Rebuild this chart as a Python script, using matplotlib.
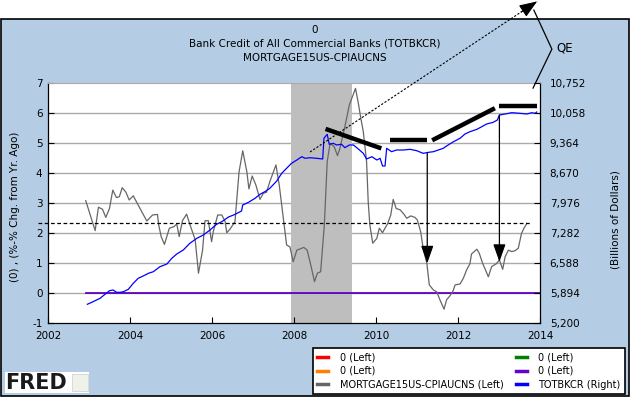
import matplotlib
matplotlib.use("Agg")
import matplotlib.pyplot as plt
from matplotlib.lines import Line2D
from matplotlib.patches import Rectangle

# ---------------- data ----------------
title_lines = ["0", "Bank Credit of All Commercial Banks (TOTBKCR)", "MORTGAGE15US-CPIAUCNS"]
left_label = "(0) , (%-% Chg. from Yr. Ago)"
right_label = "(Billions of Dollars)"

x_ticks = [2002, 2004, 2006, 2008, 2010, 2012, 2014]
left_ticks = [-1, 0, 1, 2, 3, 4, 5, 6, 7]
right_ticks = [5200, 5894, 6588, 7282, 7976, 8670, 9364, 10058, 10752]

recession = [2007.92, 2009.42]

zero_x = [2002.92, 2014.0]
zero_y = [0, 0]

mort_x = [2002.92, 2003.15, 2003.23, 2003.33, 2003.41, 2003.5, 2003.58, 2003.67, 2003.74, 2003.81,
          2003.9, 2003.98, 2004.08, 2004.2, 2004.41, 2004.55, 2004.67, 2004.7, 2004.76, 2004.84,
          2004.96, 2005.07, 2005.14, 2005.2, 2005.28, 2005.38, 2005.46, 2005.59, 2005.67, 2005.77,
          2005.83, 2005.91, 2005.99, 2006.03, 2006.14, 2006.24, 2006.32, 2006.36, 2006.44, 2006.56,
          2006.66, 2006.75, 2006.85, 2006.9, 2006.98, 2007.07, 2007.17, 2007.25, 2007.33, 2007.41,
          2007.56, 2007.64, 2007.74, 2007.82, 2007.9, 2007.98, 2008.07, 2008.15, 2008.24, 2008.32,
          2008.41, 2008.5, 2008.57, 2008.65, 2008.74, 2008.81, 2008.88, 2008.98, 2009.06, 2009.12,
          2009.24, 2009.35, 2009.5, 2009.57, 2009.63, 2009.69, 2009.77, 2009.81, 2009.85, 2009.92,
          2010.02, 2010.08, 2010.16, 2010.22, 2010.28, 2010.36, 2010.42, 2010.49, 2010.59, 2010.68,
          2010.75, 2010.85, 2010.95, 2011.01, 2011.09, 2011.15, 2011.24, 2011.3, 2011.4, 2011.48,
          2011.56, 2011.66, 2011.72, 2011.8, 2011.87, 2011.93, 2012.05, 2012.13, 2012.21, 2012.29,
          2012.33, 2012.46, 2012.52, 2012.6, 2012.67, 2012.74, 2012.82, 2012.93, 2013.01, 2013.09,
          2013.15, 2013.23, 2013.31, 2013.39, 2013.47, 2013.55, 2013.61, 2013.68]
mort_y = [3.08, 2.08, 2.86, 2.79, 2.52, 2.82, 3.43, 3.18, 3.21, 3.51,
          3.36, 3.10, 3.24, 2.93, 2.40, 2.60, 2.62, 2.27, 1.88, 1.62,
          2.16, 2.21, 2.30, 1.88, 2.41, 2.63, 2.29, 1.77, 0.66, 1.43,
          2.41, 2.41, 1.71, 2.04, 2.60, 2.60, 2.38, 2.01, 2.13, 2.38,
          4.04, 4.74, 4.04, 3.47, 3.90, 3.60, 3.12, 3.32, 3.36, 3.71,
          4.27, 3.60, 2.49, 1.60, 1.54, 1.04, 1.43, 1.47, 1.52, 1.43,
          0.93, 0.38, 0.66, 0.71, 2.27, 4.38, 4.99, 4.88, 4.58, 4.82,
          5.54, 6.27, 6.82, 6.32, 5.82, 5.38, 4.38, 3.04, 2.27, 1.66,
          1.82, 2.16, 2.01, 2.16, 2.30, 2.60, 3.12, 2.82, 2.77, 2.63,
          2.49, 2.57, 2.52, 2.43, 2.04, 1.49, 0.99, 0.27, 0.10, 0.04,
          -0.23, -0.54, -0.23, -0.10, 0.04, 0.27, 0.30, 0.49, 0.77, 0.97,
          1.30, 1.46, 1.32, 0.99, 0.77, 0.54, 0.88, 0.97, 1.10, 0.79,
          1.21, 1.43, 1.38, 1.41, 1.49, 1.99, 2.16, 2.32]

bank_x = [2002.96, 2003.1, 2003.27, 2003.39, 2003.5, 2003.59, 2003.67, 2003.76, 2003.84, 2003.96,
          2004.08, 2004.2, 2004.32, 2004.45, 2004.57, 2004.73, 2004.9, 2005.02, 2005.14, 2005.3,
          2005.46, 2005.63, 2005.79, 2005.95, 2006.11, 2006.24, 2006.4, 2006.54, 2006.72, 2006.75,
          2006.89, 2007.05, 2007.17, 2007.29, 2007.41, 2007.58, 2007.7, 2007.82, 2007.94, 2008.07,
          2008.19, 2008.27, 2008.39, 2008.55, 2008.7, 2008.73, 2008.81, 2008.86, 2008.96, 2009.04,
          2009.16, 2009.24, 2009.35, 2009.45, 2009.57, 2009.69, 2009.77, 2009.9, 2010.02, 2010.1,
          2010.16, 2010.22, 2010.26, 2010.38, 2010.5, 2010.67, 2010.83, 2010.99, 2011.15, 2011.28,
          2011.4, 2011.52, 2011.64, 2011.76, 2011.89, 2012.05, 2012.17, 2012.29, 2012.46, 2012.58,
          2012.7, 2012.86, 2012.96, 2013.01, 2013.15, 2013.31, 2013.51, 2013.68, 2013.8, 2013.88,
          2013.92]
bank_y = [5633, 5693, 5771, 5864, 5947, 5963, 5910, 5910, 5924, 5980,
          6118, 6234, 6287, 6350, 6387, 6502, 6565, 6697, 6796, 6889,
          7044, 7159, 7236, 7351, 7483, 7543, 7651, 7704, 7791, 7930,
          7992, 8085, 8177, 8238, 8316, 8485, 8663, 8779, 8894, 8971,
          9047, 9010, 9024, 9010, 8994, 9473, 9565, 9334, 9357, 9318,
          9334, 9256, 9318, 9318, 9225, 9125, 8994, 9047, 8971, 9010,
          8832, 8832, 9241, 9163, 9202, 9202, 9218, 9187, 9125, 9148,
          9163, 9202, 9241, 9318, 9394, 9473, 9572, 9625, 9680, 9741,
          9804, 9843, 9896, 10012, 10035, 10065, 10051, 10035, 10065, 10051,
          10081]

# user-drawn annotations (data coordinates)
ref_level = 2.32
ref_span = [2001.75, 2013.76]
trend_segments = [((2008.77, 5.47), (2010.13, 4.82)),
                  ((2010.34, 5.09), (2011.25, 5.09)),
                  ((2011.37, 5.09), (2012.9, 6.16)),
                  ((2013.0, 6.23), (2013.92, 6.23))]
down_arrows = [((2011.25, 4.66), (2011.25, 0.99)),
               ((2013.01, 5.93), (2013.01, 1.04))]
qe_arrow = ((2008.39, 4.70), (2013.93, 9.72))
qe_bracket_x = [2013.85, 2014.29, 2013.83]
qe_bracket_y = [9.43, 8.13, 6.83]

legend_labels = ["0 (Left)", "0 (Left)", "MORTGAGE15US-CPIAUCNS (Left)",
                 "0 (Left)", "0 (Left)", "TOTBKCR (Right)"]
legend_colors = ["#FF0000", "#FF7F00", "#666666", "#007F00", "#6600CC", "#0000FF"]

# ---------------- figure ----------------
W, H = 630, 397
BG = "#B4CDE4"
fig = plt.figure(figsize=(W / 100, H / 100), dpi=100, facecolor="white")
fig.patches.append(Rectangle((0.0008, 0.0013), 0.9984, 377.5 / H, transform=fig.transFigure,
                             facecolor=BG, edgecolor="black", linewidth=1.2, zorder=-10))

ax = fig.add_axes([48 / W, (H - 323) / H, 492 / W, 240 / H])
ax.set_facecolor("white")
ax.set_xlim(2002, 2014)
ax.set_ylim(-1, 7)

ax.axvspan(recession[0], recession[1], color="#BEBEBE", lw=0, zorder=1)
for t in range(0, 7):
    ax.axhline(t, color="#AAAAAA", lw=1.0, zorder=0.5)

ax.set_xticks(x_ticks)
ax.set_xticklabels([str(v) for v in x_ticks])
ax.set_yticks(left_ticks)
ax.set_yticklabels([str(v) for v in left_ticks])
ax.tick_params(axis="both", direction="in", length=4, width=0.8, labelsize=7.5, colors="black")
ax.tick_params(axis="x", pad=6)
ax.tick_params(axis="y", pad=4)
for s in ["left", "bottom", "right"]:
    ax.spines[s].set_color("black")
    ax.spines[s].set_linewidth(0.9)
ax.spines["top"].set_color("#AAAAAA")

for c in ["#FF0000", "#FF7F00", "#007F00"]:
    ax.plot(zero_x, zero_y, color=c, lw=0.6, zorder=2)
ax.plot(zero_x, zero_y, color="#6600CC", lw=1.3, zorder=2.1)
ax.plot(mort_x, mort_y, color="#666666", lw=0.9, zorder=3)

ax2 = ax.twinx()
ax2.set_ylim(5200, 10752)
ax2.set_yticks(right_ticks)
ax2.set_yticklabels([f"{v:,}" for v in right_ticks])
ax2.tick_params(axis="y", direction="in", length=4, width=0.8, labelsize=7.5, pad=7)
for s in ax2.spines.values():
    s.set_visible(False)
ax2.plot(bank_x, bank_y, color="#0000FF", lw=0.9, zorder=4)

# annotations on top (left-axis data coordinates)
ann_kw = dict(transform=ax.transData, clip_on=False, zorder=10)
ax2.add_line(Line2D(ref_span, [ref_level, ref_level], color="black", lw=0.9, ls=(0, (3, 2)), **ann_kw))
for (p0, p1) in trend_segments:
    ax2.add_line(Line2D([p0[0], p1[0]], [p0[1], p1[1]], color="black", lw=3.2,
                        solid_capstyle="butt", **ann_kw))
for (p0, p1) in down_arrows:
    ax2.annotate("", xy=p1, xytext=p0, xycoords=ax.transData, textcoords=ax.transData,
                 arrowprops=dict(arrowstyle="-|>,head_length=1.08,head_width=0.38",
                                 color="black", lw=0.9, shrinkA=0, shrinkB=0, mutation_scale=10),
                 annotation_clip=False, zorder=10)
(q0, q1) = qe_arrow
ax2.add_line(Line2D([q0[0], q1[0]], [q0[1], q1[1]], color="black", lw=0.8, ls=(0, (2, 1.5)), **ann_kw))
frac = 0.93
qmid = (q0[0] + (q1[0] - q0[0]) * frac, q0[1] + (q1[1] - q0[1]) * frac)
ax2.annotate("", xy=q1, xytext=qmid, xycoords=ax.transData, textcoords=ax.transData,
             arrowprops=dict(arrowstyle="-|>,head_length=1.1,head_width=0.42",
                             color="black", lw=0.8, shrinkA=0, shrinkB=0, mutation_scale=10),
             annotation_clip=False, zorder=10)
ax2.add_line(Line2D(qe_bracket_x, qe_bracket_y, color="black", lw=0.9, **ann_kw))
fig.text(556 / W, 1 - 48 / H, "QE", ha="left", va="center", fontsize=8.5)

# titles and axis labels
for i, t in enumerate(title_lines):
    fig.text(0.5, 1 - (30 + 14 * i) / H, t, ha="center", va="center", fontsize=7.5)
fig.text(15 / W, 1 - 207 / H, left_label, rotation=90, ha="center", va="center", fontsize=7.5)
fig.text(615 / W, 1 - 220 / H, right_label, rotation=90, ha="center", va="center", fontsize=7.5)

# legend
handles = [Line2D([0], [0], color=c, lw=2.5) for c in legend_colors]
leg = fig.legend(handles, legend_labels, ncol=2, loc="lower left",
                 bbox_to_anchor=(313 / W, 3 / H, 312 / W, 46 / H), mode="expand",
                 fontsize=7, handlelength=1.1, handletextpad=1.2, labelspacing=0.38,
                 borderpad=0.45, borderaxespad=0, fancybox=False, framealpha=1)
leg.get_frame().set_edgecolor("black")
leg.get_frame().set_linewidth(1.2)

# FRED logo
fig.patches.append(Rectangle((5 / W, (H - 393) / H), 84 / W, 21 / H, transform=fig.transFigure,
                             facecolor="white", edgecolor="none", zorder=5))
fig.text(5 / W, (H - 383) / H, "FRED", ha="left", va="center", fontsize=15,
         fontweight="bold", color="#1A1A1A", zorder=6)
fig.patches.append(Rectangle((72 / W, (H - 391) / H), 16 / W, 17 / H, transform=fig.transFigure,
                             facecolor="#EEF2EA", edgecolor="#CCCCCC", lw=0.5, zorder=6))

fig.savefig("out.png", dpi=100, facecolor=fig.get_facecolor())
